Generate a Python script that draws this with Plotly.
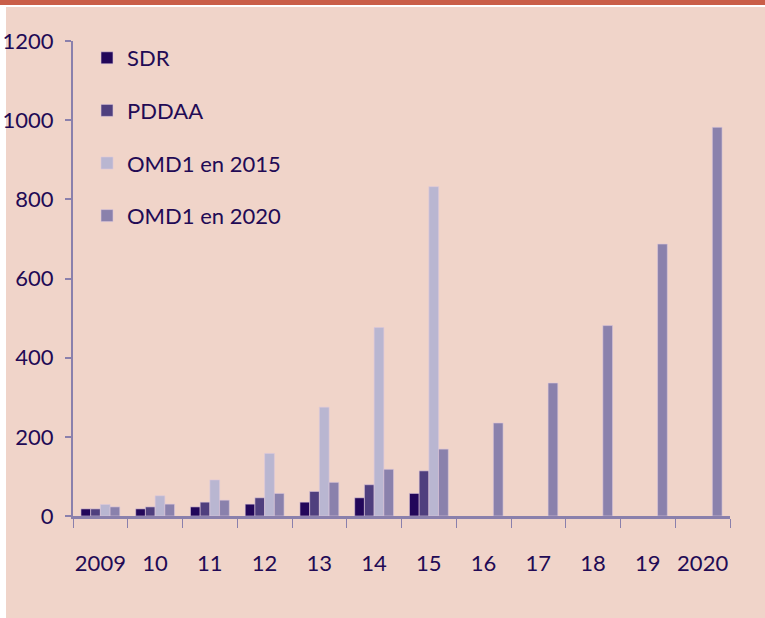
import plotly.graph_objects as go

years = ["2009", "2010", "2011", "2012", "2013", "2014", "2015",
         "2016", "2017", "2018", "2019", "2020"]
tick_labels = ["2009", "10", "11", "12", "13", "14", "15",
               "16", "17", "18", "19", "2020"]

sdr = [18, 18, 23, 30, 35, 46, 57, None, None, None, None, None]
pddaa = [18, 23, 35, 46, 62, 79, 114, None, None, None, None, None]
omd_2015 = [29, 51, 91, 158, 275, 476, 832, None, None, None, None, None]
omd_2020 = [23, 30, 40, 57, 85, 118, 169, 235, 336, 481, 687, 982]

W, H = 765, 618
L, R, T, B = 73, 35, 41, 102
pw, ph = W - L - R, H - T - B

def px_x(x):
    return (x - L) / pw

def px_y(y):
    return (H - B - y) / ph

text_col = "#220a55"
axis_col = "#8a80ac"
font_fam = "Lato, sans-serif"

fig = go.Figure()
series = [
    ("SDR", sdr, "#22075a"),
    ("PDDAA", pddaa, "#4f3f7e"),
    ("OMD1 en 2015", omd_2015, "#b9b6d1"),
    ("OMD1 en 2020", omd_2020, "#8a81ac"),
]
for name, vals, col in series:
    fig.add_trace(go.Bar(
        x=years, y=vals, name=name, legendgroup=name,
        marker=dict(color=col, line=dict(color="rgba(220,200,220,0.6)", width=1)),
    ))

fig.update_layout(
    width=W, height=H,
    margin=dict(l=L, r=R, t=T, b=B, autoexpand=False),
    paper_bgcolor="#f0d4c9",
    plot_bgcolor="rgba(0,0,0,0)",
    barmode="group", bargap=0.29, bargroupgap=0,
    font=dict(family=font_fam, size=22, color=text_col),
    legend=dict(
        x=px_x(87), y=px_y(37), xanchor="left", yanchor="top",
        bgcolor="rgba(0,0,0,0)", traceorder="grouped", tracegroupgap=21,
        font=dict(size=22, color=text_col),
    ),
    shapes=[
        dict(type="rect", xref="paper", yref="paper", layer="below",
             x0=px_x(0), x1=px_x(W), y0=px_y(0), y1=px_y(7),
             fillcolor="white", line=dict(width=0)),
        dict(type="rect", xref="paper", yref="paper", layer="below",
             x0=px_x(0), x1=px_x(W), y0=px_y(0), y1=px_y(5),
             fillcolor="#c95e48", line=dict(width=0)),
        dict(type="rect", xref="paper", yref="paper", layer="below",
             x0=px_x(0), x1=px_x(6), y0=px_y(7), y1=px_y(H),
             fillcolor="white", line=dict(width=0)),
    ],
)

fig.update_xaxes(
    type="category", tickvals=years, ticktext=tick_labels, tickangle=0,
    showline=True, linecolor=axis_col, linewidth=3, automargin=False,
    ticks="outside", tickson="boundaries", ticklen=9, tickwidth=1, tickcolor=axis_col,
    ticklabelstandoff=26, showgrid=False,
)
fig.update_yaxes(
    range=[0, 1200], tickvals=[0, 200, 400, 600, 800, 1000, 1200],
    showline=True, linecolor=axis_col, linewidth=2, automargin=False,
    ticks="outside", ticklen=6, tickwidth=2, tickcolor=axis_col,
    ticklabelstandoff=7, showgrid=False, zeroline=False,
)

fig.write_html("out.html", config={"displayModeBar": False},
               post_script="document.body.style.margin='0';")
